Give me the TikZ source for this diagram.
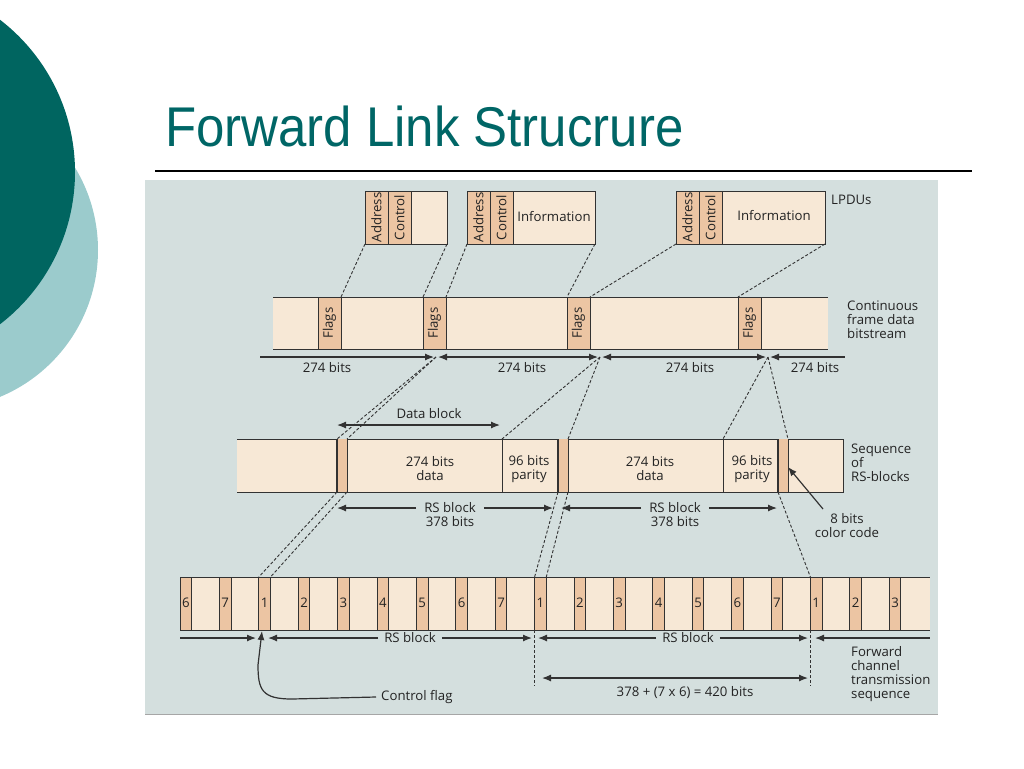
\documentclass[tikz,border=0pt]{standalone}
\usepackage{fontspec}
\usepackage{tikz}
\usetikzlibrary{arrows.meta}

\newfontfamily\lblfont{Open Sans}
\newfontfamily\titlefont{Liberation Sans}

\definecolor{cream}{RGB}{247,232,214}
\definecolor{peach}{RGB}{236,197,163}
\definecolor{linec}{RGB}{50,50,50}
\definecolor{textc}{RGB}{35,35,35}
\definecolor{scanbg}{RGB}{212,223,222}
\definecolor{titlec}{RGB}{0,102,102}
\definecolor{darkteal}{RGB}{0,101,96}
\definecolor{lightteal}{RGB}{155,203,204}

\tikzset{
  box/.style={draw=linec, fill=cream, line width=1pt},
  flagcell/.style={draw=linec, fill=peach, line width=1pt},
  lbl/.style={font=\lblfont\fontsize{13.2}{14}\selectfont, text=textc, align=center, inner sep=0pt},
  link/.style={draw=linec, line width=0.9pt, dash pattern=on 3pt off 2pt},
  dimline/.style={draw=linec, line width=1.2pt}
}

\begin{document}
\begin{tikzpicture}[x=1pt, y=-1pt, >={Latex[length=9pt,width=7pt]}]
\useasboundingbox (0,0) rectangle (1024,768);
\clip (0,0) rectangle (1024,768);

% slide decoration
\fill[lightteal] (-61,250) circle (159);
\fill[darkteal] (-117,172) circle (192);
\node[anchor=base west, inner sep=0pt, text=titlec, font=\titlefont\fontsize{56}{60}\selectfont]
  (title) at (165,146) {\scalebox{0.91}[1]{Forward Link Strucrure}};
\draw[line width=1.3pt] (155,171) -- (972,171);

% scanned figure
\fill[scanbg] (145,180) rectangle (938,714);
\draw[gray!70, line width=1pt] (145,714) -- (938,714);

% LPDUs
\foreach \x/\xr/\n in {365/447/1, 467/595/2, 676/825/3}{
  \draw[box] (\x,191) rectangle (\xr,244);
  \draw[flagcell] (\x,191) rectangle ++(23,53);
  \draw[flagcell] (\x+23,191) rectangle ++(23,53);
  \node[lbl, rotate=90] (addr\n) at (\x+11.5,217.5) {Address};
  \node[lbl, rotate=90] (ctrl\n) at (\x+34.5,217.5) {Control};
  \coordinate (lp\n-bl) at (\x,244);
  \coordinate (lp\n-br) at (\xr,244);
}
\node[lbl] (info2) at (554,217) {Information};
\node[lbl] (info3) at (774,216) {Information};
\node[lbl, anchor=west] (lpdus) at (831,200) {LPDUs};

% continuous frame bitstream
\fill[cream] (273,297) rectangle (828,349);
\draw[linec, line width=1pt] (273,297) -- (828,297) (273,349) -- (828,349);
\foreach \x/\n in {318/1, 423/2, 567/3, 738/4}{
  \draw[flagcell] (\x,297) rectangle ++(23,52);
  \node[lbl, rotate=90] (flag\n) at (\x+11.5,323) {Flags};
  \coordinate (flag\n-l) at (\x,297);
  \coordinate (flag\n-r) at (\x+23,297);
}
\node[lbl, anchor=west, align=left] (bitstream) at (847,320) {Continuous\\frame data\\bitstream};

\coordinate (m1) at (260,357);
\coordinate (m2) at (436,357);
\coordinate (m3) at (600,357);
\coordinate (m4) at (768,357);
\coordinate (m5) at (845,357);
\draw[dimline, ->] (m1) -- ([xshift=-2pt]m2);
\draw[dimline, <->] ([xshift=2pt]m2) -- ([xshift=-2pt]m3);
\draw[dimline, <->] ([xshift=2pt]m3) -- ([xshift=-2pt]m4);
\draw[dimline, <-] ([xshift=2pt]m4) -- (m5);
\foreach \x/\n in {327/1, 522/2, 690/3, 815/4}
  \node[lbl] (bits\n) at (\x,368) {274 bits};

% sequence of RS-blocks
\fill[cream] (237,439) rectangle (843,492);
\draw[linec, line width=1pt] (237,439) -- (843,439) -- (843,492) -- (237,492);
\foreach \x/\n in {337/1, 558/2, 778/3}{
  \fill[peach] (\x,439) rectangle ++(10,53);
  \draw[linec, line width=1.8pt] (\x,439) -- (\x,492);
  \draw[linec, line width=1pt] (\x+10,439) -- (\x+10,492);
  \coordinate (cc\n-tl) at (\x,439);
  \coordinate (cc\n-tr) at (\x+10,439);
  \coordinate (cc\n-bl) at (\x,492);
  \coordinate (cc\n-br) at (\x+10,492);
}
\foreach \x/\n in {502/1, 723/2}{
  \draw[linec, line width=1pt] (\x,439) -- (\x,492);
  \coordinate (par\n) at (\x,439);
}
\node[lbl] (data1) at (430,469) {274 bits\\data};
\node[lbl] (data2) at (650,469) {274 bits\\data};
\node[lbl] (parity1) at (529,469) {96 bits\\parity};
\node[lbl] (parity2) at (752,469) {96 bits\\parity};
\node[lbl, anchor=west, align=left] (seq) at (851,463) {Sequence\\of\\RS-blocks};

\node[lbl] (datablock) at (429,414) {Data block};
\draw[dimline, <->] (337,425) -- (500,425);

\node[lbl] (rsb1) at (450,515) {RS block\\378 bits};
\node[lbl] (rsb2) at (675,515) {RS block\\378 bits};
\draw[dimline, ->] (rsb1.west |- 0,508) ++(-8,0) -- (337,508);
\draw[dimline, ->] (rsb1.east |- 0,508) ++(8,0) -- (553,508);
\draw[dimline, ->] (rsb2.west |- 0,508) ++(-8,0) -- (561,508);
\draw[dimline, ->] (rsb2.east |- 0,508) ++(8,0) -- (777,508);

\node[lbl] (color) at (847,526) {8 bits\\color code};
\draw[dimline, ->] (823,509) -- (788,467);

% forward channel transmission sequence
\fill[cream] (180,577) rectangle (930,630);
\draw[linec, line width=1pt] (180,577) -- (930,577) (180,630) -- (930,630);
\foreach \k in {0,...,18}{
  \pgfmathsetmacro{\cx}{180+39.4*\k}
  \pgfmathtruncatemacro{\d}{mod(\k+5,7)+1}
  \draw[flagcell] (\cx,577) rectangle ++(11.7,53);
  \node[lbl] (cell\k) at (\cx+5.85,603) {\d};
}
\coordinate (c2-tl) at (258.8,577);
\coordinate (c2-tr) at (270.5,577);
\coordinate (c9-tl) at (534.6,577);
\coordinate (c9-tr) at (546.3,577);
\coordinate (c16-tl) at (810.4,577);

\node[lbl] (rs1) at (410,638) {RS block};
\node[lbl] (rs2) at (688,638) {RS block};
\draw[dimline, ->] (180,638) -- (256,638);
\draw[dimline, ->] (rs1.west) ++(-6,0) -- (268,638);
\draw[dimline, ->] (rs1.east) ++(6,0) -- (532,638);
\draw[dimline, ->] (rs2.west) ++(-6,0) -- (538,638);
\draw[dimline, ->] (rs2.east) ++(6,0) -- (808,638);
\draw[dimline, <-] (815,638) -- (930,638);

\draw[link] (534.6,630) -- (534.6,686);
\draw[link] (810.4,630) -- (810.4,686);
\draw[dimline, <->] (542,678) -- (808,678);
\node[lbl] (total) at (685,693) {378 + (7 x 6) = 420 bits};

\node[lbl, anchor=west, align=left] (fwd) at (851,674) {Forward\\channel\\transmission\\sequence};

\node[lbl, anchor=west] (cflag) at (381,697) {Control flag};
\draw[dimline, ->] (cflag.west) ++(-5,0) -- (292,699)
  .. controls (262,699) and (258,690) .. (258,665) -- (262,631);

% dashed links between the rows
\draw[link] (lp1-bl) -- (flag1-r);
\draw[link] (lp1-br) -- (flag2-l);
\draw[link] (lp2-bl) -- (flag2-r);
\draw[link] (lp2-br) -- (flag3-l);
\draw[link] (lp3-bl) -- (flag3-r);
\draw[link] (lp3-br) -- (flag4-l);
\draw[link] (m2) -- (cc1-tl);
\draw[link] (m2) -- (cc1-tr);
\draw[link] (m3) -- (par1);
\draw[link] (m3) -- (cc2-tr);
\draw[link] (m4) -- (par2);
\draw[link] (m4) -- (cc3-tr);
\draw[link] (cc1-bl) -- (c2-tl);
\draw[link] (cc1-br) -- (c2-tr);
\draw[link] (cc2-bl) -- (c9-tl);
\draw[link] (cc2-br) -- (c9-tr);
\draw[link] (cc3-bl) -- (c16-tl);

\end{tikzpicture}
\end{document}
